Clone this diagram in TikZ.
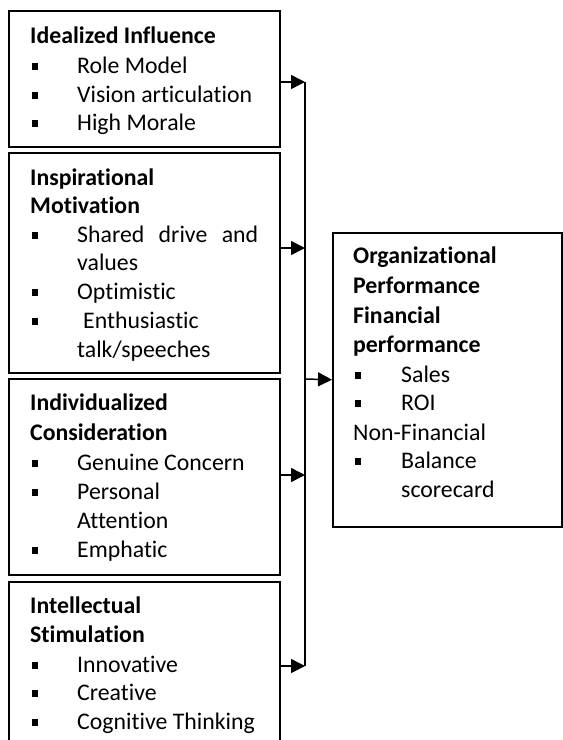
\documentclass[tikz,border=0pt]{standalone}
\usepackage{fontspec}
\setmainfont{Carlito}[Ligatures=NoCommon]
\usetikzlibrary{arrows.meta}
\begin{document}
\begin{tikzpicture}[x=1pt,y=-1pt,
  box/.style={draw, line width=1.5pt, anchor=north west, inner sep=0pt},
  txt/.style={anchor=base west, inner sep=0pt, font=\fontsize{23.8}{28}\selectfont},
  ttl/.style={txt, font=\fontsize{23.8}{28}\selectfont\bfseries},
  bul/.style={fill=black, inner sep=0pt, minimum width=6pt, minimum height=7pt, anchor=south west},
  arr/.style={line width=1.5pt, -{Triangle[length=14pt,width=14pt]}},
  bar/.style={line width=1.5pt}]
\useasboundingbox (0,0) rectangle (563,740);
\clip (0,0) rectangle (563,740);
% boxes
\node[box, minimum width=271pt, minimum height=136pt] (b1) at (8,10) {};
\node[box, minimum width=271pt, minimum height=220pt] (b2) at (8,152) {};
\node[box, minimum width=271pt, minimum height=196pt] (b3) at (8,378) {};
\node[box, minimum width=271pt, minimum height=200pt] (b4) at (8,581) {};
\node[box, minimum width=229pt, minimum height=294pt] (op) at (332,232) {};
% box 1
\node[ttl] (t1) at (30,43) {Idealized Influence};
\node[bul] (s11) at (32,70) {}; \node[txt] (l11) at (77,73) {Role Model};
\node[bul] (s12) at (32,99) {}; \node[txt] (l12) at (77,102) {Vision articulation};
\node[bul] (s13) at (32,127) {}; \node[txt] (l13) at (77,130) {High Morale};
% box 2
\begin{scope}
\clip (8,152) rectangle (279,361);
\node[ttl] (t2a) at (30,185) {Inspirational};
\node[ttl] (t2b) at (30,213) {Motivation};
\node[bul] (s21) at (32,239) {}; \node[txt] (l21) at (77,242) {\makebox[181pt][s]{Shared drive and}};
\node[txt] (l22) at (77,270) {values};
\node[bul] (s23) at (32,296) {}; \node[txt] (l23) at (77,299) {Optimistic};
\node[bul] (s24) at (32,325) {}; \node[txt] (l24) at (83,328) {Enthusiastic};
\node[txt] (l25) at (77,357) {talk/speeches};
\end{scope}
% box 3
\node[ttl] (t3a) at (30,410) {Individualized};
\node[ttl] (t3b) at (30,440) {Consideration};
\node[bul] (s31) at (32,467) {}; \node[txt] (l31) at (77,470) {Genuine Concern};
\node[bul] (s32) at (32,496) {}; \node[txt] (l32) at (77,499) {Personal};
\node[txt] (l33) at (77,528) {Attention};
\node[bul] (s34) at (32,554) {}; \node[txt] (l34) at (77,557) {Emphatic};
% box 4
\begin{scope}
\clip (8,581) rectangle (279,733);
\node[ttl] (t4a) at (30,613) {Intellectual};
\node[ttl] (t4b) at (30,642) {Stimulation};
\node[bul] (s41) at (32,669) {}; \node[txt] (l41) at (77,672) {Innovative};
\node[bul] (s42) at (32,697) {}; \node[txt] (l42) at (77,700) {Creative};
\node[bul] (s43) at (32,726) {}; \node[txt] (l43) at (77,729) {Cognitive Thinking};
\end{scope}
% right box
\node[ttl] (o1) at (353,263) {Organizational};
\node[ttl] (o2) at (353,293) {Performance};
\node[ttl] (o3) at (353,323) {Financial};
\node[ttl] (o4) at (353,352) {performance};
\node[bul] (so1) at (355,379) {}; \node[txt] (o5) at (401,382) {Sales};
\node[bul] (so2) at (355,407) {}; \node[txt] (o6) at (401,410) {ROI};
\node[txt] (o7) at (353,440) {Non-Financial};
\node[bul] (so3) at (355,465) {}; \node[txt] (o8) at (401,468) {Balance};
\node[txt] (o9) at (401,497) {scorecard};
% connectors
\coordinate (j1) at (305,82);
\coordinate (j2) at (305,248);
\coordinate (j3) at (305,475);
\coordinate (j4) at (305,666);
\coordinate (jm) at (305,379);
\draw[bar] (j1) -- (j4);
\draw[arr] (b1.east |- j1) -- (j1);
\draw[arr] (b2.east |- j2) -- (j2);
\draw[arr] (b3.east |- j3) -- (j3);
\draw[arr] (b4.east |- j4) -- (j4);
\draw[arr] (jm) -- (op.west);
\end{tikzpicture}
\end{document}
